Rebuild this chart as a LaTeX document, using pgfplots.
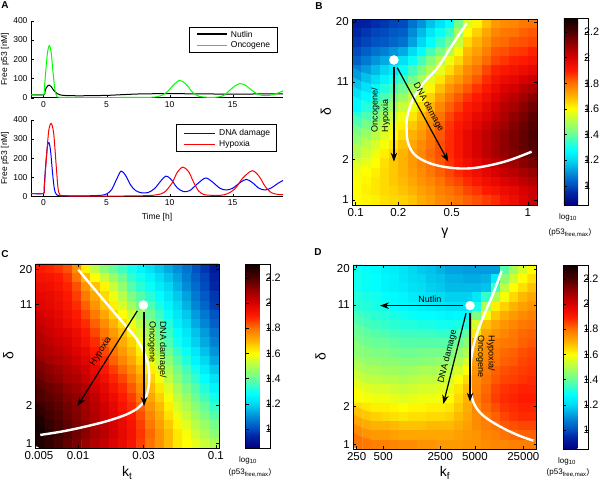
\documentclass[border=0pt]{standalone}
\usepackage{fontspec}
\setmainfont{Liberation Sans}
\usepackage{pgfplots}
\usepackage{pgfplotstable}
\pgfplotsset{compat=1.18}
\usetikzlibrary{arrows.meta}
\pgfkeys{/pgf/number format/assume math mode=true}
\newcommand\fA{\fontsize{8.5}{10}\selectfont}
\newcommand\fH{\fontsize{11.5}{13}\selectfont}
\newcommand\fC{\fontsize{10.8}{13}\selectfont}
\newcommand\fT{\fontsize{9}{10.5}\selectfont}
\newcommand\fL{\fontsize{14}{16}\selectfont}
\newcommand\fS{\fontsize{8}{9.5}\selectfont}

\pgfplotsset{
 colormap={pmap}{rgb(0pt)=(0,0,0.5); rgb(10pt)=(0,0.15,0.65); rgb(15pt)=(0,0.3,0.75); rgb(25pt)=(0,0.55,0.85); rgb(35pt)=(0,0.85,0.95); rgb(43pt)=(0,1,1); rgb(55pt)=(0.4,1,0.6); rgb(67pt)=(0.75,1,0.25); rgb(75pt)=(1,1,0); rgb(85pt)=(1,0.7,0); rgb(95pt)=(1,0.45,0); rgb(105pt)=(1,0.1,0); rgb(115pt)=(0.85,0,0); rgb(125pt)=(0.6,0,0); rgb(135pt)=(0.3,0,0); rgb(146pt)=(0.05,0,0)},
 hm/.style={
  scale only axis, anchor=south west,
  xmin=-0.5, xmax=19.5, ymin=-0.5, ymax=19.5, enlargelimits=false,
  axis on top, tick align=inside, major tick length=3pt,
  tick style={black, line width=0.5pt}, axis line style={black, line width=0.5pt},
  tick label style={font=\fH},
  colormap name=pmap, point meta min=0.85, point meta max=2.31,
  colorbar,
  colorbar style={at={(parent axis.south east)}, anchor=south west, xshift=18pt, width=24.5pt, scale only axis,
     ytick={1,1.2,1.4,1.6,1.8,2,2.2}, yticklabel style={font=\fC, anchor=west, inner sep=0pt, xshift=-4.5pt}, tick align=inside, major tick length=3pt,
     tick style={black, line width=0.4pt}, yticklabel pos=right},
  xlabel style={font=\fL, at={(rel axis cs:0.5,0)}, anchor=center},
  ylabel style={font=\fL, at={(rel axis cs:0,0.5)}, anchor=center},
 },
 wcurve/.style={white, line width=2.4pt, smooth, tension=0.6},
 dot/.style={only marks, mark=*, mark size=4.5pt, mark options={draw=white, fill=white}},
 arr/.style={black, line width=1.2pt, -{Stealth[length=9pt,width=6.5pt]}},
 mat/.style={matrix plot*, mesh/cols=20, point meta=explicit},
 lineA/.style={
  scale only axis, anchor=south west, width=252pt,
  xmin=-1, xmax=19, ymin=0, ymax=400, axis x line*=bottom, axis y line*=left,
  tick align=inside, major tick length=2.5pt, tick style={black}, axis line style={black, line width=0.5pt},
  xtick={0,5,10,15}, ytick={0,100,200,300,400}, tick label style={font=\fA},
  ylabel={Free p53 [nM]}, ylabel style={font=\fA, at={(rel axis cs:0,0.5)}, yshift=26pt, anchor=center},
 },
}

% Heatmap B (rows from top delta=20 to bottom delta=1; columns gamma 0.1 -> 1)
\pgfplotstableread[row sep=\\, header=false]{
0.93\\0.94\\0.96\\0.97\\0.99\\1.00\\1.06\\1.11\\1.17\\1.22\\1.28\\1.42\\1.55\\1.61\\1.68\\1.74\\1.76\\1.77\\1.79\\1.80\\
0.95\\0.97\\0.99\\1.00\\1.02\\1.03\\1.10\\1.16\\1.23\\1.29\\1.35\\1.48\\1.60\\1.66\\1.72\\1.77\\1.79\\1.80\\1.82\\1.83\\
0.97\\0.99\\1.01\\1.02\\1.04\\1.06\\1.13\\1.20\\1.28\\1.35\\1.42\\1.53\\1.65\\1.70\\1.75\\1.80\\1.81\\1.83\\1.84\\1.85\\
1.00\\1.03\\1.06\\1.08\\1.11\\1.14\\1.21\\1.28\\1.36\\1.43\\1.50\\1.59\\1.69\\1.73\\1.78\\1.83\\1.84\\1.86\\1.87\\1.89\\
1.03\\1.07\\1.11\\1.14\\1.18\\1.22\\1.29\\1.36\\1.44\\1.51\\1.58\\1.65\\1.72\\1.76\\1.81\\1.85\\1.87\\1.89\\1.90\\1.92\\
1.08\\1.12\\1.16\\1.20\\1.24\\1.29\\1.36\\1.43\\1.50\\1.57\\1.64\\1.70\\1.76\\1.80\\1.85\\1.89\\1.91\\1.93\\1.95\\1.97\\
1.12\\1.17\\1.21\\1.26\\1.30\\1.35\\1.42\\1.49\\1.56\\1.63\\1.70\\1.74\\1.79\\1.83\\1.88\\1.92\\1.95\\1.97\\2.00\\2.02\\
1.17\\1.22\\1.27\\1.32\\1.36\\1.41\\1.48\\1.55\\1.61\\1.68\\1.75\\1.79\\1.83\\1.87\\1.91\\1.95\\1.99\\2.01\\2.05\\2.07\\
1.22\\1.27\\1.32\\1.37\\1.42\\1.47\\1.53\\1.60\\1.66\\1.73\\1.79\\1.83\\1.87\\1.90\\1.94\\1.98\\2.02\\2.05\\2.09\\2.12\\
1.27\\1.32\\1.37\\1.43\\1.48\\1.53\\1.58\\1.65\\1.70\\1.77\\1.82\\1.86\\1.90\\1.93\\1.97\\2.01\\2.05\\2.08\\2.12\\2.15\\
1.32\\1.37\\1.42\\1.48\\1.53\\1.58\\1.63\\1.69\\1.74\\1.80\\1.85\\1.89\\1.92\\1.96\\1.99\\2.03\\2.07\\2.11\\2.14\\2.18\\
1.37\\1.42\\1.47\\1.52\\1.57\\1.62\\1.67\\1.72\\1.77\\1.82\\1.87\\1.91\\1.94\\1.98\\2.02\\2.06\\2.09\\2.13\\2.16\\2.19\\
1.42\\1.47\\1.51\\1.56\\1.60\\1.65\\1.70\\1.74\\1.79\\1.83\\1.88\\1.92\\1.96\\2.00\\2.04\\2.08\\2.11\\2.14\\2.17\\2.20\\
1.46\\1.51\\1.55\\1.59\\1.63\\1.68\\1.72\\1.76\\1.80\\1.84\\1.88\\1.92\\1.96\\2.00\\2.04\\2.08\\2.11\\2.14\\2.17\\2.19\\
1.50\\1.54\\1.58\\1.62\\1.66\\1.70\\1.74\\1.77\\1.81\\1.84\\1.88\\1.92\\1.96\\2.00\\2.04\\2.08\\2.11\\2.13\\2.16\\2.18\\
1.54\\1.57\\1.60\\1.64\\1.67\\1.70\\1.74\\1.77\\1.80\\1.83\\1.87\\1.90\\1.94\\1.97\\2.01\\2.04\\2.07\\2.09\\2.12\\2.14\\
1.57\\1.60\\1.62\\1.65\\1.67\\1.70\\1.73\\1.76\\1.79\\1.82\\1.85\\1.88\\1.91\\1.94\\1.97\\2.00\\2.03\\2.05\\2.08\\2.10\\
1.59\\1.61\\1.63\\1.65\\1.67\\1.69\\1.72\\1.75\\1.77\\1.80\\1.83\\1.85\\1.88\\1.91\\1.94\\1.96\\1.99\\2.01\\2.04\\2.06\\
1.60\\1.62\\1.63\\1.65\\1.66\\1.68\\1.70\\1.73\\1.75\\1.78\\1.80\\1.82\\1.85\\1.87\\1.90\\1.92\\1.95\\1.97\\2.00\\2.02\\
1.60\\1.61\\1.62\\1.64\\1.65\\1.66\\1.68\\1.71\\1.73\\1.76\\1.78\\1.80\\1.82\\1.84\\1.86\\1.88\\1.92\\1.95\\1.99\\2.02\\
}\tabB

% Heatmap C
\pgfplotstableread[row sep=\\, header=false]{
1.90\\1.89\\1.87\\1.84\\1.76\\1.62\\1.52\\1.45\\1.40\\1.35\\1.30\\1.26\\1.22\\1.18\\1.14\\1.10\\1.06\\1.01\\0.97\\0.92\\
1.93\\1.92\\1.90\\1.87\\1.80\\1.69\\1.60\\1.53\\1.47\\1.41\\1.34\\1.30\\1.26\\1.21\\1.17\\1.13\\1.08\\1.03\\0.99\\0.94\\
1.95\\1.94\\1.92\\1.89\\1.84\\1.75\\1.68\\1.61\\1.53\\1.46\\1.38\\1.33\\1.29\\1.24\\1.20\\1.15\\1.10\\1.05\\1.00\\0.95\\
1.97\\1.96\\1.94\\1.91\\1.86\\1.79\\1.72\\1.65\\1.58\\1.51\\1.43\\1.38\\1.33\\1.28\\1.23\\1.18\\1.13\\1.07\\1.02\\0.97\\
1.98\\1.97\\1.95\\1.92\\1.88\\1.82\\1.75\\1.68\\1.62\\1.55\\1.48\\1.42\\1.37\\1.31\\1.26\\1.20\\1.15\\1.09\\1.04\\0.98\\
2.00\\1.99\\1.97\\1.94\\1.90\\1.85\\1.79\\1.72\\1.66\\1.60\\1.53\\1.47\\1.41\\1.35\\1.29\\1.23\\1.18\\1.12\\1.07\\1.01\\
2.02\\2.00\\1.98\\1.95\\1.92\\1.88\\1.82\\1.76\\1.70\\1.64\\1.58\\1.51\\1.45\\1.38\\1.32\\1.25\\1.20\\1.14\\1.09\\1.03\\
2.04\\2.02\\2.00\\1.98\\1.95\\1.91\\1.85\\1.79\\1.74\\1.68\\1.62\\1.55\\1.49\\1.41\\1.35\\1.28\\1.23\\1.17\\1.12\\1.06\\
2.06\\2.04\\2.02\\2.00\\1.97\\1.93\\1.88\\1.82\\1.77\\1.71\\1.66\\1.59\\1.52\\1.44\\1.37\\1.30\\1.25\\1.19\\1.14\\1.08\\
2.08\\2.06\\2.04\\2.02\\1.99\\1.96\\1.91\\1.85\\1.80\\1.74\\1.69\\1.62\\1.55\\1.48\\1.41\\1.34\\1.29\\1.23\\1.17\\1.11\\
2.10\\2.08\\2.06\\2.04\\2.01\\1.98\\1.93\\1.88\\1.82\\1.77\\1.72\\1.65\\1.58\\1.52\\1.45\\1.38\\1.32\\1.26\\1.20\\1.14\\
2.13\\2.11\\2.09\\2.06\\2.04\\2.01\\1.96\\1.91\\1.86\\1.81\\1.76\\1.69\\1.62\\1.56\\1.49\\1.42\\1.36\\1.30\\1.24\\1.18\\
2.15\\2.13\\2.11\\2.08\\2.06\\2.03\\1.98\\1.94\\1.89\\1.85\\1.80\\1.73\\1.66\\1.59\\1.52\\1.45\\1.39\\1.34\\1.28\\1.22\\
2.18\\2.16\\2.14\\2.11\\2.09\\2.06\\2.01\\1.97\\1.92\\1.88\\1.83\\1.76\\1.69\\1.63\\1.56\\1.49\\1.43\\1.38\\1.32\\1.26\\
2.20\\2.18\\2.16\\2.13\\2.11\\2.08\\2.04\\1.99\\1.95\\1.90\\1.86\\1.79\\1.72\\1.66\\1.59\\1.52\\1.47\\1.41\\1.36\\1.30\\
2.23\\2.20\\2.18\\2.15\\2.12\\2.09\\2.05\\2.01\\1.97\\1.92\\1.88\\1.82\\1.75\\1.69\\1.62\\1.55\\1.50\\1.45\\1.40\\1.34\\
2.25\\2.22\\2.19\\2.16\\2.13\\2.10\\2.06\\2.02\\1.98\\1.94\\1.90\\1.84\\1.77\\1.71\\1.64\\1.58\\1.53\\1.48\\1.43\\1.38\\
2.28\\2.24\\2.21\\2.18\\2.14\\2.11\\2.07\\2.04\\2.00\\1.96\\1.92\\1.86\\1.79\\1.73\\1.67\\1.61\\1.56\\1.51\\1.47\\1.42\\
2.30\\2.26\\2.22\\2.19\\2.15\\2.12\\2.08\\2.05\\2.01\\1.97\\1.93\\1.87\\1.81\\1.75\\1.69\\1.63\\1.59\\1.54\\1.50\\1.45\\
2.28\\2.25\\2.21\\2.17\\2.14\\2.10\\2.06\\2.03\\1.99\\1.96\\1.92\\1.86\\1.80\\1.75\\1.69\\1.63\\1.60\\1.57\\1.53\\1.50\\
}\tabC

% Heatmap D
\pgfplotstableread[row sep=\\, header=false]{
1.30\\1.28\\1.27\\1.25\\1.24\\1.22\\1.20\\1.18\\1.17\\1.15\\1.13\\1.13\\1.12\\1.12\\1.12\\1.12\\1.38\\1.48\\1.55\\1.60\\
1.30\\1.29\\1.28\\1.26\\1.25\\1.23\\1.21\\1.20\\1.18\\1.17\\1.15\\1.15\\1.14\\1.14\\1.15\\1.24\\1.45\\1.54\\1.60\\1.64\\
1.30\\1.29\\1.28\\1.26\\1.25\\1.24\\1.22\\1.21\\1.19\\1.18\\1.16\\1.16\\1.16\\1.16\\1.17\\1.35\\1.52\\1.60\\1.64\\1.68\\
1.32\\1.31\\1.30\\1.28\\1.27\\1.26\\1.24\\1.23\\1.22\\1.21\\1.19\\1.19\\1.19\\1.23\\1.34\\1.49\\1.59\\1.65\\1.69\\1.72\\
1.33\\1.32\\1.31\\1.30\\1.28\\1.27\\1.26\\1.25\\1.24\\1.23\\1.22\\1.22\\1.22\\1.30\\1.50\\1.62\\1.66\\1.70\\1.73\\1.75\\
1.35\\1.34\\1.33\\1.32\\1.31\\1.30\\1.29\\1.28\\1.28\\1.27\\1.26\\1.27\\1.27\\1.43\\1.59\\1.67\\1.71\\1.74\\1.76\\1.78\\
1.37\\1.36\\1.35\\1.34\\1.33\\1.32\\1.32\\1.31\\1.31\\1.30\\1.30\\1.31\\1.32\\1.55\\1.68\\1.72\\1.75\\1.77\\1.79\\1.80\\
1.40\\1.39\\1.38\\1.37\\1.36\\1.35\\1.35\\1.35\\1.35\\1.34\\1.34\\1.36\\1.39\\1.63\\1.72\\1.75\\1.77\\1.79\\1.81\\1.82\\
1.42\\1.41\\1.40\\1.40\\1.39\\1.38\\1.38\\1.38\\1.38\\1.38\\1.38\\1.41\\1.45\\1.70\\1.75\\1.78\\1.79\\1.80\\1.82\\1.83\\
1.45\\1.44\\1.43\\1.43\\1.42\\1.41\\1.41\\1.42\\1.42\\1.42\\1.42\\1.46\\1.50\\1.72\\1.76\\1.79\\1.81\\1.82\\1.84\\1.85\\
1.47\\1.46\\1.46\\1.45\\1.45\\1.44\\1.44\\1.45\\1.45\\1.46\\1.46\\1.50\\1.55\\1.73\\1.77\\1.80\\1.82\\1.83\\1.85\\1.86\\
1.50\\1.49\\1.49\\1.48\\1.48\\1.47\\1.48\\1.49\\1.49\\1.50\\1.50\\1.55\\1.60\\1.75\\1.79\\1.82\\1.84\\1.85\\1.86\\1.87\\
1.53\\1.52\\1.52\\1.51\\1.51\\1.50\\1.51\\1.52\\1.52\\1.53\\1.54\\1.60\\1.65\\1.76\\1.80\\1.83\\1.85\\1.86\\1.87\\1.88\\
1.57\\1.56\\1.55\\1.55\\1.54\\1.53\\1.54\\1.55\\1.55\\1.56\\1.57\\1.63\\1.68\\1.77\\1.81\\1.85\\1.87\\1.88\\1.89\\1.89\\
1.60\\1.59\\1.58\\1.58\\1.57\\1.56\\1.57\\1.58\\1.58\\1.59\\1.60\\1.65\\1.70\\1.78\\1.82\\1.86\\1.88\\1.89\\1.90\\1.90\\
1.64\\1.63\\1.62\\1.62\\1.61\\1.60\\1.61\\1.61\\1.62\\1.62\\1.63\\1.67\\1.71\\1.77\\1.81\\1.84\\1.87\\1.88\\1.89\\1.89\\
1.68\\1.67\\1.66\\1.65\\1.64\\1.63\\1.64\\1.64\\1.65\\1.65\\1.66\\1.69\\1.72\\1.76\\1.79\\1.82\\1.85\\1.87\\1.88\\1.88\\
1.72\\1.71\\1.70\\1.70\\1.69\\1.68\\1.68\\1.68\\1.69\\1.69\\1.69\\1.71\\1.73\\1.76\\1.78\\1.80\\1.83\\1.84\\1.85\\1.85\\
1.76\\1.75\\1.74\\1.74\\1.73\\1.72\\1.72\\1.72\\1.72\\1.72\\1.72\\1.73\\1.74\\1.75\\1.77\\1.78\\1.80\\1.81\\1.82\\1.82\\
1.80\\1.79\\1.78\\1.78\\1.77\\1.76\\1.76\\1.75\\1.75\\1.74\\1.74\\1.74\\1.75\\1.75\\1.76\\1.77\\1.77\\1.78\\1.78\\1.78\\
}\tabD

\begin{document}
\begin{tikzpicture}
\path[use as bounding box] (0pt,0pt) rectangle (600pt,484pt);

% ---------- Panel A top ----------
\begin{axis}[lineA, at={(31pt,386.3pt)}, height=77pt]
\addplot[black, line width=1pt, smooth, tension=0.5] coordinates {(-1,15) (0,15) (0.1,30) (0.2,50) (0.35,63) (0.45,65) (0.6,58) (0.8,38) (1.0,25) (1.3,15) (1.8,11) (3,10) (5,12) (6,15) (7,18) (8,20) (10,21) (12,20) (14,19) (16,19) (19,20)};
\addplot[green, line width=1pt, smooth, tension=0.5] coordinates {(-1,15) (0,15) (0.05,40) (0.15,120) (0.3,230) (0.45,270) (0.6,235) (0.75,130) (0.9,40) (1.05,8) (1.3,2) (3,1) (6,1) (8.5,2) (9.3,10) (9.8,30) (10.3,65) (10.8,90) (11.3,70) (11.8,30) (12.3,8) (13,2) (13.8,3) (14.3,12) (14.8,40) (15.2,62) (15.6,73) (16,65) (16.5,40) (17,18) (17.5,11) (18,13) (18.5,22) (19,35)};
% legend
\draw[black, line width=0.5pt, fill=white] (axis cs:11.55,367) rectangle (axis cs:18.58,238);
\draw[black, line width=1.1pt] (axis cs:12.16,331) -- (axis cs:14.54,331);
\draw[green, line width=1.1pt] (axis cs:12.16,271) -- (axis cs:14.54,271);
\node[font=\fA, anchor=west, inner sep=0pt] at (axis cs:14.85,331) {Nutlin};
\node[font=\fA, anchor=west, inner sep=0pt] at (axis cs:14.85,271) {Oncogene};
\end{axis}

% ---------- Panel A bottom ----------
\begin{axis}[lineA, at={(31pt,287.7pt)}, height=76.3pt,
  xlabel={Time [h]}, xlabel style={font=\fA, at={(rel axis cs:0.5,0)}, yshift=-20.7pt, anchor=center}]
\addplot[blue, line width=1pt, smooth, tension=0.5] coordinates {(-1,15) (0,15) (0.05,50) (0.15,150) (0.3,260) (0.42,282) (0.55,240) (0.7,130) (0.85,40) (1.0,12) (1.3,4) (3,2) (4.5,5) (5,12) (5.4,35) (5.8,90) (6.15,132) (6.5,110) (6.9,60) (7.3,30) (7.8,18) (8.3,20) (8.8,40) (9.3,80) (9.7,106) (10.1,90) (10.6,45) (11.1,25) (11.6,30) (12.2,65) (12.85,96) (13.4,75) (14,42) (14.5,33) (15,42) (15.6,72) (16.1,89) (16.6,70) (17.1,42) (17.6,33) (18.1,45) (18.6,68) (19,83)};
\addplot[red, line width=1pt, smooth, tension=0.5] coordinates {(-1,15) (0,15) (0.05,40) (0.2,180) (0.4,340) (0.6,382) (0.8,330) (1.0,160) (1.15,40) (1.3,8) (1.6,2) (5,1) (8,3) (9,8) (9.6,22) (10.2,70) (10.6,125) (11.05,153) (11.5,130) (11.9,75) (12.3,28) (12.8,8) (14,5) (14.6,14) (15.2,40) (15.8,95) (16.55,134) (17.1,105) (17.6,50) (18.1,18) (18.6,10) (19,8)};
% legend
\draw[black, line width=0.5pt, fill=white] (axis cs:10.56,378) rectangle (axis cs:18.5,234);
\draw[blue, line width=1.1pt] (axis cs:11.17,330) -- (axis cs:13.6,330);
\draw[red, line width=1.1pt] (axis cs:11.17,273) -- (axis cs:13.6,273);
\node[font=\fA, anchor=west, inner sep=0pt] at (axis cs:13.92,330) {DNA damage};
\node[font=\fA, anchor=west, inner sep=0pt] at (axis cs:13.92,273) {Hypoxia};
\end{axis}

% ---------- Panel B ----------
\begin{axis}[hm, at={(352.3pt,279pt)}, width=185pt, height=186pt,
  xtick={-0.13,4.47,10.25,18.48}, xticklabels={0.1,0.2,0.5,1},
  ytick={0.04,4.41,12.73,19.18}, yticklabels={1,2,11,20},
  xlabel={γ}, ylabel={δ}, xlabel style={yshift=-28pt}, ylabel style={yshift=26.5pt},
  colorbar style={height=187pt}]
\addplot[mat] table[x index=0, y index=0, meta index=0, x expr={mod(\coordindex,20)}, y expr={19-floor(\coordindex/20)}] {\tabB};
\addplot[wcurve] coordinates {(11.86,19.03) (10.42,16.88) (8.80,14.37) (7.18,12.58) (6.02,10.79) (5.45,9.0) (5.37,7.56) (5.55,6.13) (6.27,4.88) (7.90,3.98) (10.06,3.51) (12.22,3.44) (14.38,3.77) (16.55,4.34) (18.89,5.23)};
\addplot[dot] coordinates {(4.0,15.09)};
\addplot[arr] coordinates {(4.0,14.37) (4.0,4.16)};
\addplot[arr] coordinates {(4.36,14.27) (9.88,4.16)};
\node[font=\fT, rotate=-61.5] at (axis cs:7.72,10.0) {DNA damage};
\node[font=\fT, rotate=90, align=left] at (axis cs:2.56,9.71) {Oncogene/\\Hypoxia};
\end{axis}

% ---------- Panel C ----------
\begin{axis}[hm, at={(35.7pt,36pt)}, width=183.3pt, height=184pt,
  xtick={-0.14,4.12,11.28,19.16}, xticklabels={0.005,0.01,0.03,0.1},
  ytick={0,4.1,15.14,18.95}, yticklabels={1,2,11,20},
  xlabel={k\textsubscript{t}}, ylabel={δ}, xlabel style={yshift=-25pt}, ylabel style={yshift=27.4pt},
  colorbar style={height=184pt}]
\addplot[mat] table[x index=0, y index=0, meta index=0, x expr={mod(\coordindex,20)}, y expr={19-floor(\coordindex/20)}] {\tabC};
\addplot[wcurve] coordinates {(4.15,18.88) (6.52,16.05) (8.70,13.5) (10.52,11.32) (11.61,9.14) (11.90,7.32) (11.68,5.5) (11.06,4.23) (9.79,3.32) (7.61,2.52) (5.06,1.86) (2.52,1.32) (0.0,0.92)};
\addplot[dot] coordinates {(11.25,15.03)};
\addplot[arr] coordinates {(11.32,14.23) (11.32,4.05)};
\addplot[arr] coordinates {(10.59,14.41) (4.05,4.05)};
\node[font=\fT, rotate=-90, align=left] at (axis cs:12.77,10.23) {DNA damage/\\Oncogene};
\node[font=\fT, rotate=57.7] at (axis cs:6.6,10.0) {Hypoxia};
\end{axis}

% ---------- Panel D ----------
\begin{axis}[hm, at={(353.3pt,35pt)}, width=183.4pt, height=184pt,
  xtick={-0.13,2.77,8.99,12.77,18.04}, xticklabels={250,500,2500,5000,25000},
  ytick={0,4.1,15.15,19.07}, yticklabels={1,2,11,20},
  xlabel={k\textsubscript{f}}, ylabel={δ}, xlabel style={yshift=-24pt}, ylabel style={yshift=32.6pt},
  colorbar style={height=184pt}]
\addplot[mat] table[x index=0, y index=0, meta index=0, x expr={mod(\coordindex,20)}, y expr={19-floor(\coordindex/20)}] {\tabD};
\addplot[wcurve] coordinates {(15.68,18.88) (14.77,16.42) (13.68,13.88) (12.77,11.35) (12.3,8.81) (12.23,6.64) (12.41,5.19) (12.95,3.92) (14.05,2.83) (15.86,1.75) (17.68,0.91) (19.14,0.41)};
\addplot[dot] coordinates {(12.23,15.08)};
\addplot[arr] coordinates {(11.5,15.08) (2.41,15.08)};
\addplot[arr] coordinates {(11.79,14.25) (9.32,4.39)};
\addplot[arr] coordinates {(12.23,14.25) (12.23,4.64)};
\node[font=\fT] at (axis cs:7.86,15.75) {Nutlin};
\node[font=\fT, rotate=76] at (axis cs:9.79,9.54) {DNA damage};
\node[font=\fT, rotate=-90, align=left] at (axis cs:13.94,9.54) {Hypoxia/\\Oncogene};
\end{axis}

% ---------- Panel letters and colorbar labels ----------
\node[font=\bfseries\fontsize{10}{12}\selectfont] at (5pt,479pt) {A};
\node[font=\bfseries\fontsize{10}{12}\selectfont] at (319pt,478pt) {B};
\node[font=\bfseries\fontsize{10}{12}\selectfont] at (5pt,230pt) {C};
\node[font=\bfseries\fontsize{10}{12}\selectfont] at (318pt,232pt) {D};
\node[font=\fS] at (568pt,267pt) {log\textsubscript{10}};
\node[font=\fS] at (570pt,251pt) {(p53\textsubscript{free,max})};
\node[font=\fS] at (248pt,24pt) {log\textsubscript{10}};
\node[font=\fS] at (250pt,11pt) {(p53\textsubscript{free,max})};
\node[font=\fS] at (567pt,23pt) {log\textsubscript{10}};
\node[font=\fS] at (568pt,11pt) {(p53\textsubscript{free,max})};
\end{tikzpicture}
\end{document}
